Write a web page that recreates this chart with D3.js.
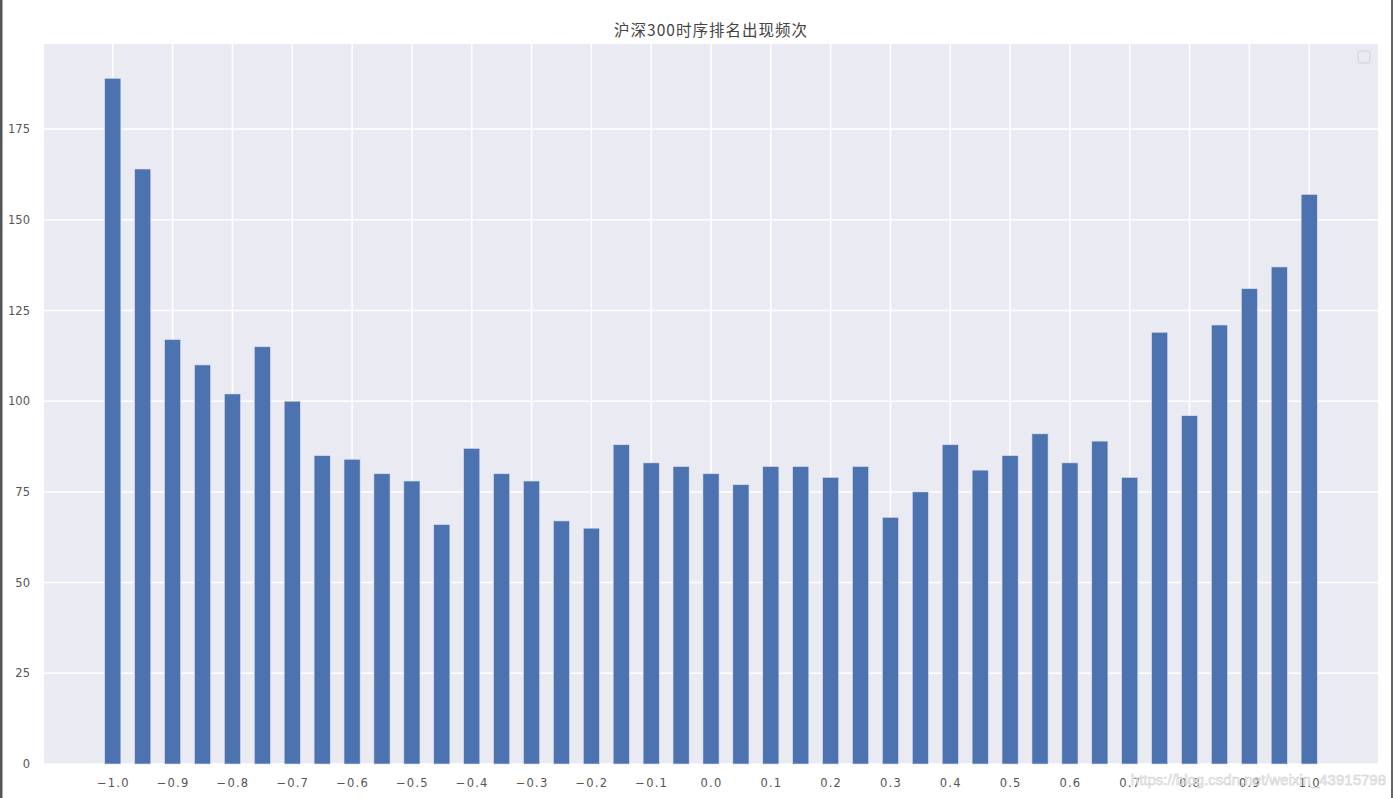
<!DOCTYPE html>
<html><head><meta charset="utf-8">
<script src="https://cdn.jsdelivr.net/npm/d3@7"></script>
<style>body{margin:0;background:#fff;} svg{display:block;}</style>
</head><body>
<script>
const categories = [-1.0,-0.95,-0.9,-0.85,-0.8,-0.75,-0.7,-0.65,-0.6,-0.55,-0.5,-0.45,-0.4,-0.35,-0.3,-0.25,-0.2,-0.15,-0.1,-0.05,0.0,0.05,0.1,0.15,0.2,0.25,0.3,0.35,0.4,0.45,0.5,0.55,0.6,0.65,0.7,0.75,0.8,0.85,0.9,0.95,1.0];
const counts = [189,164,117,110,102,115,100,85,84,80,78,66,87,80,78,67,65,88,83,82,80,77,82,82,79,82,68,75,88,81,85,91,83,89,79,119,96,121,131,137,157];
const xTicks = [-1.0,-0.9,-0.8,-0.7,-0.6,-0.5,-0.4,-0.3,-0.2,-0.1,0.0,0.1,0.2,0.3,0.4,0.5,0.6,0.7,0.8,0.9,1.0];
const xTickLabels = ["−1.0","−0.9","−0.8","−0.7","−0.6","−0.5","−0.4","−0.3","−0.2","−0.1","0.0","0.1","0.2","0.3","0.4","0.5","0.6","0.7","0.8","0.9","1.0"];
const yTicks = [0,25,50,75,100,125,150,175];
const title = "沪深300时序排名出现频次";
const watermark = "https://blog.csdn.net/weixin_43915798";

const W = 1395, H = 798;
const m = {left:44, right:1378, top:44, bottom:764};
const svg = d3.select("body").append("svg").attr("width",W).attr("height",H);
const font = "'DejaVu Sans','Noto Sans CJK SC',sans-serif";

const x = d3.scaleLinear().domain([-1.115,1.115]).range([m.left,m.right]);
const y = d3.scaleLinear().domain([0,198.45]).range([m.bottom,m.top]);
const barW = 0.027;

// frame borders of screenshot
svg.append("rect").attr("x",0).attr("y",0).attr("width",2.5).attr("height",H).attr("fill","#555");
svg.append("rect").attr("x",1391).attr("y",0).attr("width",2).attr("height",H).attr("fill","#666");

svg.append("rect").attr("x",m.left).attr("y",m.top).attr("width",m.right-m.left).attr("height",m.bottom-m.top).attr("fill","#eaeaf2");

// gridlines
svg.append("g").selectAll("line").data(yTicks).join("line")
  .attr("x1",m.left).attr("x2",m.right).attr("y1",d=>y(d)).attr("y2",d=>y(d))
  .attr("stroke","#fff").attr("stroke-width",1.5);
svg.append("g").selectAll("line").data(xTicks).join("line")
  .attr("y1",m.top).attr("y2",m.bottom).attr("x1",d=>x(d)).attr("x2",d=>x(d))
  .attr("stroke","#fff").attr("stroke-width",1.5);

// bars
svg.append("g").selectAll("rect").data(categories).join("rect")
  .attr("x",(d)=>x(d-barW/2))
  .attr("width",(d)=>x(d+barW/2)-x(d-barW/2))
  .attr("y",(d,i)=>y(counts[i]))
  .attr("height",(d,i)=>y(0)-y(counts[i]))
  .attr("fill","#4c72b0").attr("stroke","#dfe3ef").attr("stroke-width",0.6);

// axes
const xAxis = d3.axisBottom(x).tickValues(xTicks).tickSize(0).tickPadding(15)
  .tickFormat((d,i)=>xTickLabels[i]);
const gx = svg.append("g").attr("transform",`translate(0,${m.bottom})`).call(xAxis);
gx.select(".domain").remove();
gx.selectAll("text").attr("font-family",font).attr("font-size",11.5).attr("fill","#555").attr("letter-spacing","1.2px");

const yAxis = d3.axisLeft(y).tickValues(yTicks).tickSize(0).tickPadding(14);
const gy = svg.append("g").attr("transform",`translate(${m.left},0)`).call(yAxis);
gy.select(".domain").remove();
gy.selectAll("text").attr("font-family",font).attr("font-size",11.5).attr("fill","#555");

// title
svg.append("text").attr("x",(m.left+m.right)/2).attr("y",36).attr("text-anchor","middle")
  .attr("font-family","'Noto Sans CJK SC',sans-serif").attr("font-size",15.5).attr("letter-spacing","1px")
  .attr("fill","#444").text(title);

// empty legend
svg.append("rect").attr("x",1358).attr("y",51).attr("width",12).attr("height",12).attr("rx",2.5)
  .attr("fill","#eaeaf2").attr("stroke","#d0d0d8").attr("stroke-width",1);

// watermark
svg.append("text").attr("x",1386).attr("y",785).attr("text-anchor","end")
  .attr("font-family","'Liberation Sans',sans-serif").attr("font-size",15).attr("fill","#f2f2f2")
  .attr("stroke","#c8c8c8").attr("stroke-width",0.5).attr("opacity",0.9).text(watermark);
</script>
</body></html>
